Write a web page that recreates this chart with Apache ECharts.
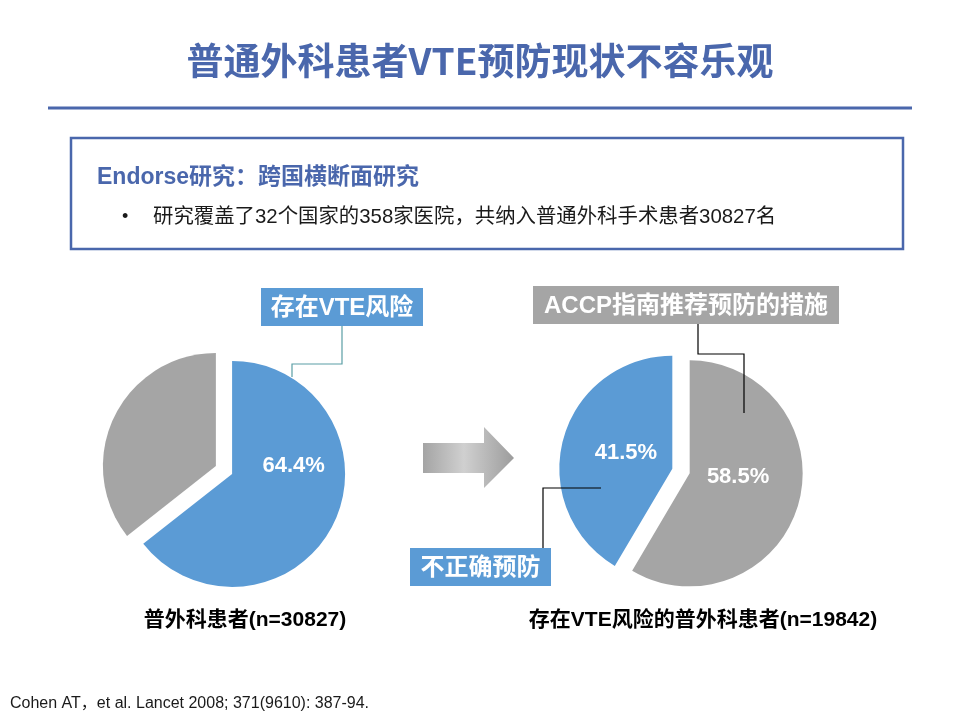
<!DOCTYPE html>
<html>
<head>
<meta charset="utf-8">
<script src="https://cdn.jsdelivr.net/npm/echarts@6/dist/echarts.min.js"></script>
<style>
  html, body { margin: 0; padding: 0; background: #fff; }
  #main { width: 960px; height: 720px; }
</style>
</head>
<body>
<div id="main"></div>
<script>
// 数据
var leftNames = ['存在VTE风险', '无VTE风险'];
var leftValues = [64.4, 35.6];
var rightNames = ['ACCP指南推荐预防的措施', '不正确预防'];
var rightValues = [58.5, 41.5];
var leftCaption = '普外科患者(n=30827)';
var rightCaption = '存在VTE风险的普外科患者(n=19842)';

var BLUE = '#5B9BD5';
var GRAY = '#A5A5A5';
var NAVY = '#4A67AC';
var FONT = '"Liberation Sans", "Noto Sans CJK SC", sans-serif';

var myChart = echarts.init(document.getElementById('main'));

function pieData(names, values, colors, showLabel) {
    var arr = [];
    for (var i = 0; i < names.length; i++) {
        arr.push({
            name: names[i],
            value: values[i],
            selected: true,
            itemStyle: { color: colors[i] },
            label: { show: showLabel[i] }
        });
    }
    return arr;
}

// 标签微调（像素）
var labelNudge = [
    [[8, -34], [0, 0]],
    [[-9, -12], [11, 0]]
];

function calloutBox(x, y, w, h, color, text) {
    return [
        { type: 'rect', z: 50, shape: { x: x, y: y, width: w, height: h }, style: { fill: color } },
        {
            type: 'text', z: 51, x: x + w / 2, y: y + h / 2 + 1,
            style: { text: text, fill: '#fff', font: 'bold 24px ' + FONT, textAlign: 'center', textVerticalAlign: 'middle' }
        }
    ];
}

var graphics = [
    {
        type: 'text', x: 480, y: 61,
        style: { text: '普通外科患者VTE预防现状不容乐观', fill: NAVY, font: 'bold 37px "Noto Sans CJK SC", sans-serif', textAlign: 'center', textVerticalAlign: 'middle' }
    },
    { type: 'line', shape: { x1: 48, y1: 108, x2: 912, y2: 108 }, style: { stroke: NAVY, lineWidth: 3 } },
    { type: 'rect', shape: { x: 71, y: 138, width: 832, height: 111 }, style: { fill: null, stroke: NAVY, lineWidth: 2.5 } },
    {
        type: 'text', x: 97, y: 178,
        style: { text: 'Endorse研究：跨国横断面研究', fill: NAVY, font: 'bold 23px ' + FONT, textVerticalAlign: 'middle' }
    },
    {
        type: 'text', x: 122, y: 217,
        style: { text: '•', fill: '#1a1a1a', font: '18px ' + FONT, textVerticalAlign: 'middle' }
    },
    {
        type: 'text', x: 153, y: 217,
        style: { text: '研究覆盖了32个国家的358家医院，共纳入普通外科手术患者30827名', fill: '#1a1a1a', font: '20.4px ' + FONT, textVerticalAlign: 'middle' }
    },
    // 箭头
    {
        type: 'polygon',
        shape: { points: [[423, 443], [484, 443], [484, 427], [514, 458], [484, 488], [484, 473], [423, 473]] },
        style: {
            fill: new echarts.graphic.LinearGradient(0, 0, 1, 0, [
                { offset: 0, color: '#a4a4a4' },
                { offset: 0.45, color: '#d0d0d0' },
                { offset: 1, color: '#9c9c9c' }
            ])
        }
    },
    // 引线
    { type: 'polyline', z: 60, shape: { points: [[342, 326], [342, 364], [292, 364], [292, 377]] }, style: { stroke: '#5A9EA5', lineWidth: 1.2, fill: null } },
    { type: 'polyline', z: 60, shape: { points: [[698, 324], [698, 354], [744, 354], [744, 413]] }, style: { stroke: '#000', lineWidth: 1.2, fill: null } },
    { type: 'polyline', z: 60, shape: { points: [[543, 548], [543, 488], [601, 488]] }, style: { stroke: '#000', lineWidth: 1.2, fill: null } },
    // 图注
    {
        type: 'text', x: 245, y: 620,
        style: { text: leftCaption, fill: '#000', font: 'bold 21px ' + FONT, textAlign: 'center', textVerticalAlign: 'middle' }
    },
    {
        type: 'text', x: 703, y: 620,
        style: { text: rightCaption, fill: '#000', font: 'bold 21px ' + FONT, textAlign: 'center', textVerticalAlign: 'middle' }
    },
    {
        type: 'text', x: 10, y: 704,
        style: { text: 'Cohen AT，et al. Lancet 2008; 371(9610): 387-94.', fill: '#1a1a1a', font: '16px ' + FONT, textVerticalAlign: 'middle' }
    }
];
graphics = graphics
    .concat(calloutBox(261, 288, 162, 38, BLUE, leftNames[0]))
    .concat(calloutBox(533, 286, 306, 38, GRAY, rightNames[0]))
    .concat(calloutBox(410, 548, 141, 38, BLUE, rightNames[1]));

var pieLabel = {
    position: 'inside',
    color: '#fff',
    fontFamily: FONT,
    fontWeight: 'bold',
    fontSize: 22,
    formatter: function (p) { return p.value.toFixed(1) + '%'; }
};

var option = {
    animation: false,
    backgroundColor: '#fff',
    graphic: graphics,
    series: [
        {
            type: 'pie',
            center: [224, 470],
            radius: 113,
            startAngle: 90,
            clockwise: true,
            selectedMode: 'multiple',
            selectedOffset: 9,
            silent: true,
            label: pieLabel,
            labelLine: { show: false },
            labelLayout: function (p) { var d = labelNudge[0][p.dataIndex]; return { dx: d[0], dy: d[1] }; },
            data: pieData(leftNames, leftValues, [BLUE, GRAY], [true, false])
        },
        {
            type: 'pie',
            center: [681, 471],
            radius: 113,
            startAngle: 90,
            clockwise: true,
            selectedMode: 'multiple',
            selectedOffset: 9,
            silent: true,
            label: pieLabel,
            labelLine: { show: false },
            labelLayout: function (p) { var d = labelNudge[1][p.dataIndex]; return { dx: d[0], dy: d[1] }; },
            data: pieData(rightNames, rightValues, [GRAY, BLUE], [true, true])
        }
    ]
};

myChart.setOption(option);
</script>
</body>
</html>
